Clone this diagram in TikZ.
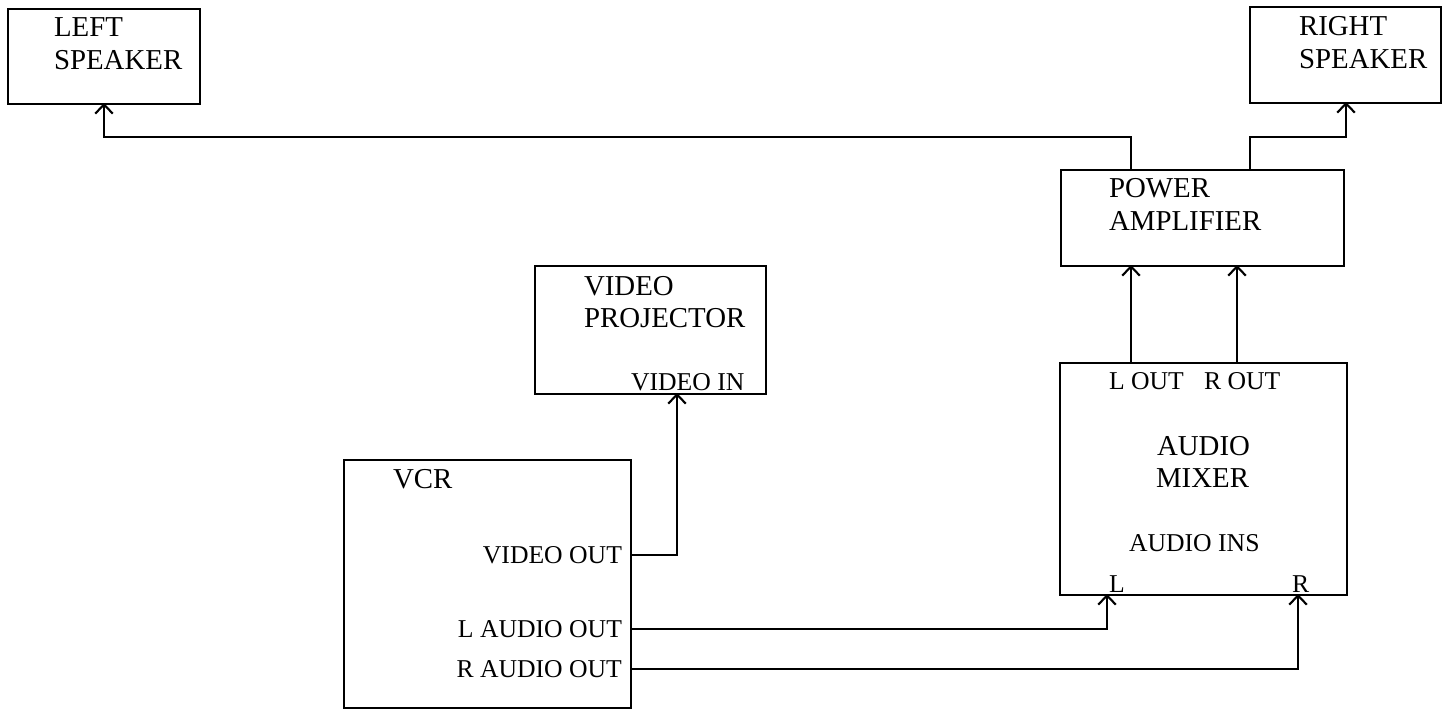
\documentclass[tikz,border=0pt]{standalone}
\usepackage{fontspec}
\setmainfont{Liberation Serif}
\usetikzlibrary{arrows.meta}
\begin{document}
\begin{tikzpicture}[x=0.01cm, y=-0.01cm, line width=0.6pt,
  >={Straight Barb[length=2.6pt,width=5pt,line width=0.6pt]},
  box/.style={draw, inner sep=0pt, anchor=north west},
  title/.style={inner sep=0pt, anchor=base west, font=\fontsize{8.2}{9}\selectfont},
  port/.style={inner sep=0pt, anchor=base west, font=\fontsize{7.3}{8}\selectfont}]
  \useasboundingbox (0,0) rectangle (1443,709);
  % boxes
  \node[box, minimum width=1.92cm, minimum height=0.95cm] (lspk) at (7,8) {};
  \node[box, minimum width=1.91cm, minimum height=0.96cm] (rspk) at (1249,6) {};
  \node[box, minimum width=2.83cm, minimum height=0.96cm] (amp) at (1060,169) {};
  \node[box, minimum width=2.31cm, minimum height=1.28cm] (proj) at (534,265) {};
  \node[box, minimum width=2.87cm, minimum height=2.32cm] (mix) at (1059,362) {};
  \node[box, minimum width=2.87cm, minimum height=2.48cm] (vcr) at (343,459) {};
  % texts
  \node[title] (lspkA) at (53,36) {LEFT};
  \node[title] (lspkB) at (53,69) {SPEAKER};
  \node[title] (rspkA) at (1298,35) {RIGHT};
  \node[title] (rspkB) at (1298,68) {SPEAKER};
  \node[title] (ampA) at (1108,197) {POWER};
  \node[title] (ampB) at (1108,230) {AMPLIFIER};
  \node[title] (projA) at (583,295) {VIDEO};
  \node[title] (projB) at (583,327) {PROJECTOR};
  \node[port] (projIn) at (630,390) {VIDEO IN};
  \node[title] (vcrT) at (392,488) {VCR};
  \node[port, anchor=base east] (vcrVid) at (623,563) {VIDEO OUT};
  \node[port, anchor=base east] (vcrL) at (623,637) {L AUDIO OUT};
  \node[port, anchor=base east] (vcrR) at (623,677) {R AUDIO OUT};
  \node[port] (mixLo) at (1108,389) {L OUT};
  \node[port] (mixRo) at (1203,389) {R OUT};
  \node[title] (mixA) at (1156,455) {AUDIO};
  \node[title] (mixB) at (1155,487) {MIXER};
  \node[port] (mixIns) at (1128,551) {AUDIO INS};
  \node[port] (mixInL) at (1108,592) {L};
  \node[port] (mixInR) at (1291,592) {R};
  % ports
  \coordinate (lsIn) at (104,103);
  \coordinate (rsIn) at (1346,102);
  \coordinate (aoL) at (1131,169);
  \coordinate (aoR) at (1250,169);
  \coordinate (aiL) at (1131,265);
  \coordinate (aiR) at (1237,265);
  \coordinate (moL) at (1131,362);
  \coordinate (moR) at (1237,362);
  \coordinate (miL) at (1107,594);
  \coordinate (miR) at (1298,594);
  \coordinate (pIn) at (677,393);
  \coordinate (vVid) at (630,555);
  \coordinate (vL) at (630,629);
  \coordinate (vR) at (630,669);
  % connectors
  \draw[->] (aoL) -- ++(0,-32) -| (lsIn);
  \draw[->] (aoR) -- ++(0,-32) -| (rsIn);
  \draw[->] (moL) -- (aiL);
  \draw[->] (moR) -- (aiR);
  \draw[->] (vVid) -| (pIn);
  \draw[->] (vL) -| (miL);
  \draw[->] (vR) -| (miR);
\end{tikzpicture}
\end{document}
